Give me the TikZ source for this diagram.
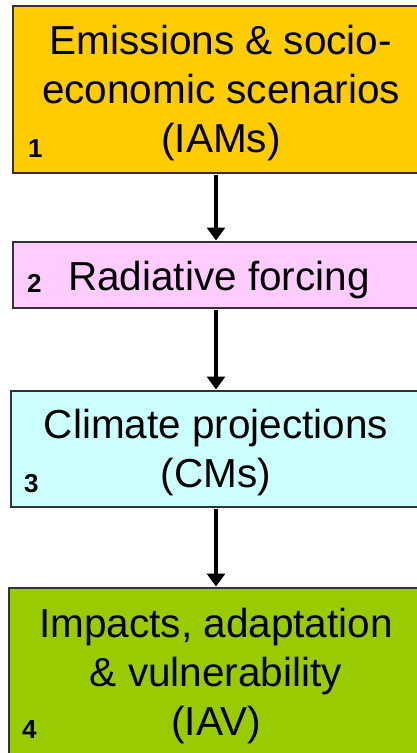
\documentclass[tikz,border=0pt]{standalone}
\usepackage{fontspec}
\setmainfont{Liberation Sans}
\usetikzlibrary{arrows.meta}
\definecolor{c1}{HTML}{FFCC00}
\definecolor{c2}{HTML}{FFCCFF}
\definecolor{c3}{HTML}{CCFFFF}
\definecolor{c4}{HTML}{99CC00}
\definecolor{edge}{HTML}{333333}
\tikzset{
  boxstyle/.style={draw=edge, line width=1.5pt, rectangle, inner sep=0pt},
  maintext/.style={align=center, inner sep=0pt, font=\fontsize{40.5}{49}\selectfont},
  numtext/.style={inner sep=0pt, anchor=base west, font=\fontsize{26}{30}\selectfont\bfseries},
  arr/.style={line width=4.5pt, -{Triangle[width=18pt,length=13pt]}, shorten <=0.75pt, shorten >=0.75pt}
}
\begin{document}
\begin{tikzpicture}[x=1pt,y=-1pt]
\useasboundingbox (0,0) rectangle (417,753);
\clip (0,0) rectangle (417,753);
\fill[white] (0,0) rectangle (417,753);
\node[boxstyle, fill=c1, minimum width=406pt, minimum height=167pt] (b1) at (216,89.5) {};
\node[boxstyle, fill=c2, minimum width=406pt, minimum height=66pt] (b2) at (216,275) {};
\node[boxstyle, fill=c3, minimum width=410pt, minimum height=116pt] (b3) at (216,449) {};
\node[boxstyle, fill=c4, minimum width=414pt, minimum height=190pt] (b4) at (216,683) {};
\node[maintext, anchor=base] (t1) at (221,152) {Emissions \& socio-\\economic scenarios\\(IAMs)};
\node[maintext, anchor=base] (t2) at (219,290) {Radiative forcing};
\node[maintext, anchor=base] (t3) at (216,487) {Climate projections\\(CMs)};
\node[maintext, anchor=base] (t4) at (216,735) {Impacts, adaptation\\\& vulnerability\\(IAV)};
\node[numtext] (n1) at (28,157) {1};
\node[numtext] (n2) at (27,292) {2};
\node[numtext] (n3) at (24,492) {3};
\node[numtext] (n4) at (22,738) {4};
\draw[arr] (b1.south) -- (b2.north);
\draw[arr] (b2.south) -- (b3.north);
\draw[arr] (b3.south) -- (b4.north);
\end{tikzpicture}
\end{document}
